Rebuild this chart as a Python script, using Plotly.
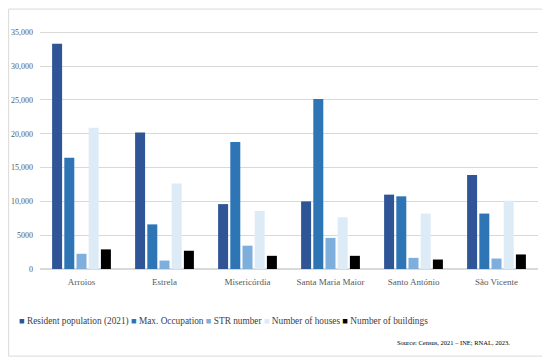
import plotly.graph_objects as go

categories = ["Arroios", "Estrela", "Misericórdia", "Santa Maria Maior", "Santo António", "São Vicente"]
series_names = ["Resident population (2021)", "Max. Occupation", "STR number", "Number of houses", "Number of buildings"]
resident = [33300, 20200, 9600, 10000, 11000, 13900]
max_occupation = [16450, 6600, 18800, 25150, 10750, 8200]
str_number = [2250, 1250, 3450, 4600, 1650, 1550]
houses = [20900, 12650, 8600, 7650, 8200, 10100]
buildings = [2900, 2700, 1950, 1950, 1400, 2150]
tick_vals = [0, 5000, 10000, 15000, 20000, 25000, 30000, 35000]
tick_text = ["0", "5000", "10,000", "15,000", "20,000", "25,000", "30,000", "35,000"]
source_text = "Source: Census, 2021 – INE; RNAL, 2023."

colors = ["#2F5597", "#2E75B6", "#7EAEDC", "#DDEBF7", "#000000"]
values = [resident, max_occupation, str_number, houses, buildings]

FONT = "Liberation Serif"
fig = go.Figure()
for name, vals, col in zip(series_names, values, colors):
    fig.add_trace(go.Bar(x=categories, y=vals, name=name, marker=dict(color=col, line=dict(width=0)),
                         showlegend=False))

# legend drawn as a single text line with coloured square markers
legend_parts = []
for name, col in zip(series_names, colors):
    legend_parts.append(f'<span style="color:{col}">■</span> {name}')
legend_text = " ".join(legend_parts)

fig.update_layout(
    width=542, height=354,
    barmode="group", bargap=0.265, bargroupgap=0.18,
    paper_bgcolor="white", plot_bgcolor="white",
    margin=dict(l=32, r=12, t=20.6, b=92.5, autoexpand=False),
    font=dict(family=FONT, color="#595959", size=9),
    showlegend=False,
    xaxis=dict(showgrid=False, showline=False, ticks="", automargin=False, ticklabelstandoff=6,
               tickfont=dict(size=9, color="#595959")),
    yaxis=dict(range=[0, 35500], tickvals=tick_vals, ticktext=tick_text, automargin=False,
               showgrid=True, gridcolor="#D9D9D9", gridwidth=1, zeroline=True,
               zerolinecolor="#D9D9D9", ticks="", ticklabelstandoff=6,
               tickfont=dict(size=8, color="#595959")),
    shapes=[dict(type="rect", xref="paper", yref="paper", x0=-0.063, x1=1.014, y0=-0.363, y1=1.083,
                 line=dict(color="#DADADA", width=1))],
    annotations=[
        dict(text=legend_text, xref="paper", yref="paper", x=-0.046, y=-0.218, xanchor="left",
             yanchor="middle", showarrow=False, font=dict(family=FONT, size=9.3, color="#404040")),
        dict(text=source_text, xref="paper", yref="paper", x=0.948, y=-0.305, xanchor="right",
             yanchor="middle", showarrow=False, font=dict(family=FONT, size=6.5, color="#000000")),
    ],
)
fig.write_html("out.html")
